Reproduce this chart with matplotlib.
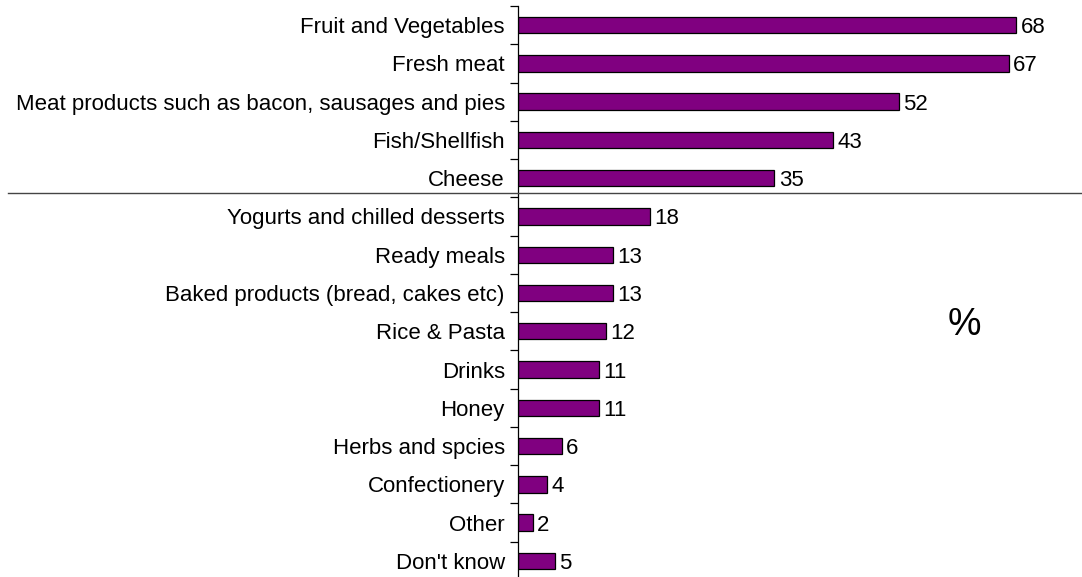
import matplotlib
matplotlib.use("Agg")
import matplotlib.pyplot as plt
from matplotlib.lines import Line2D

categories = ["Fruit and Vegetables", "Fresh meat",
              "Meat products such as bacon, sausages and pies",
              "Fish/Shellfish", "Cheese", "Yogurts and chilled desserts",
              "Ready meals", "Baked products (bread, cakes etc)",
              "Rice & Pasta", "Drinks", "Honey", "Herbs and spcies",
              "Confectionery", "Other", "Don't know"]
values = [68, 67, 52, 43, 35, 18, 13, 13, 12, 11, 11, 6, 4, 2, 5]

plt.rcParams['font.family'] = ['Liberation Sans', 'DejaVu Sans']

W, H = 1082, 577
fig = plt.figure(figsize=(W / 100, H / 100), dpi=100, facecolor="white")
ax = fig.add_axes([518 / W, -3 / H, 1 - 518 / W, 574 / H])

pos = list(range(len(categories)))
ax.barh(pos, values, height=0.43, color="#800080", edgecolor="black", linewidth=0.9)
for p, v in zip(pos, values):
    ax.text(v + 0.6, p, str(v), va="center_baseline", ha="left", fontsize=16)

ax.set_xlim(0, 77)
ax.set_ylim(len(categories) - 0.5, -0.5)
ax.set_yticks(pos)
ax.set_yticklabels(categories, fontsize=16)
ax.set_yticks([i - 0.5 for i in range(len(categories) + 1)], minor=True)
ax.tick_params(axis="y", which="major", length=0, pad=9.5)
ax.tick_params(axis="y", which="minor", length=6, width=0.9, direction="out")
ax.set_xticks([])
for s in ["top", "right", "bottom"]:
    ax.spines[s].set_visible(False)
ax.spines["left"].set_linewidth(0.9)

# divider between the top five and the rest
fig.add_artist(Line2D([8 / W, 1081 / W], [1 - 193 / H, 1 - 193 / H],
                      color="#444444", linewidth=1.0))
fig.text(964 / W, 1 - 325 / H, "%", ha="center", va="center", fontsize=27)

fig.savefig("out.png", dpi=100)
